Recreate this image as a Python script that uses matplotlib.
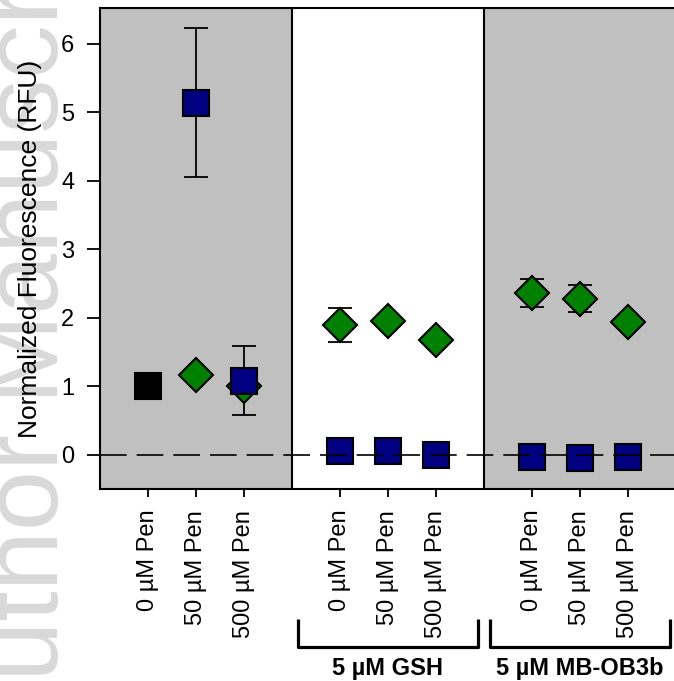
import numpy as np
import matplotlib.pyplot as plt
from matplotlib.transforms import blended_transform_factory

plt.rcParams['font.family'] = ['Liberation Sans', 'DejaVu Sans']

# nine conditions in three groups, one empty slot between groups
xpos = [1, 2, 3, 5, 6, 7, 9, 10, 11]
xlabels = ['0 µM Pen', '50 µM Pen', '500 µM Pen'] * 3

# untreated control
ctrl_x = [1]
ctrl_y = [1.0]

# green diamonds
green_x = [2, 3, 5, 6, 7, 9, 10, 11]
green_y = [1.17, 1.0, 1.89, 1.95, 1.68, 2.36, 2.28, 1.94]
green_err = [0, 0, 0.245, 0, 0, 0.2, 0.2, 0]

# blue squares
blue_x = [2, 3, 5, 6, 7, 9, 10, 11]
blue_y = [5.14, 1.08, 0.05, 0.05, -0.01, -0.03, -0.05, -0.03]
blue_err = [1.09, 0.5, 0, 0, 0, 0, 0, 0]

groups = ['5 µM GSH', '5 µM MB-OB3b']
group_mid = [6, 10]

fig = plt.figure(figsize=(6.74, 6.81), dpi=100)
ax = fig.add_axes([100 / 674, 192 / 681, 576 / 674, 481 / 681])

# shaded panels and separators
ax.axvspan(0, 4, color='#c0c0c0', zorder=0, lw=0)
ax.axvspan(8, 12, color='#c0c0c0', zorder=0, lw=0)
ax.axvline(4, color='k', lw=1.5, zorder=1)
ax.axvline(8, color='k', lw=1.5, zorder=1)


def draw_series(x, y, err, marker, ms, color):
    for xi, yi, ei in zip(x, y, err):
        if ei > 0:
            ax.errorbar(xi, yi, yerr=ei, fmt='none', ecolor='k', elinewidth=1.3,
                        capsize=8.5, capthick=1.3, zorder=2)
    ax.plot(x, y, ls='none', marker=marker, ms=ms, mfc=color, mec='k',
            mew=1.5, zorder=3)


draw_series(ctrl_x, ctrl_y, [0], 's', 19, 'k')
draw_series(green_x, green_y, green_err, 'D', 17.5, '#008000')
draw_series(blue_x, blue_y, blue_err, 's', 19, '#000080')

ax.axhline(0, color='k', lw=1.2, dashes=(16, 6), zorder=5)

ax.set_xlim(0, 12)
ax.set_ylim(-0.5, 6.52)
ax.set_xticks(xpos)
ax.set_xticklabels(xlabels, rotation=90, fontsize=17)
ax.set_yticks(range(0, 7))
ax.tick_params(axis='y', labelsize=17, length=9.5, width=1.3, pad=9)
ax.tick_params(axis='x', length=6, width=1.3, pad=9)
ax.set_ylabel('Normalized Fluorescence (RFU)', fontsize=19, labelpad=14)
for s in ax.spines.values():
    s.set_linewidth(1.5)

# brackets under the treated groups
trans = blended_transform_factory(ax.transData, fig.transFigure)
for name, mid in zip(groups, group_mid):
    x0, x1 = mid - 1.88, mid + 1.88
    ytop, ybot = 1 - 619 / 681, 1 - 647 / 681
    ax.plot([x0, x0, x1, x1], [ytop, ybot, ybot, ytop], color='k', lw=2.3,
            transform=trans, clip_on=False, solid_joinstyle='round',
            solid_capstyle='butt')
    ax.text(mid, 1 - 668 / 681, name, transform=trans, ha='center',
            va='center', fontsize=17, fontweight='bold')

# watermark along the left edge
fig.text(80 / 674, -72 / 681, 'Author Manuscript', rotation=90, fontsize=78,
         color='#d9d9d9', ha='right', va='bottom', zorder=-5)

fig.savefig('out.png', dpi=100)
